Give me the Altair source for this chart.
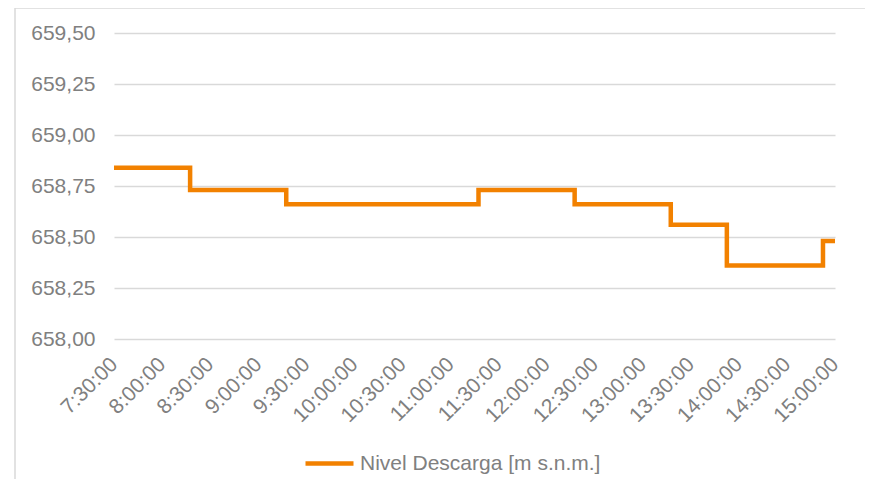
import altair as alt
import pandas as pd

# Step change times and levels
times = ["2024-01-01T07:30:00", "2024-01-01T08:17:30", "2024-01-01T09:17:30",
         "2024-01-01T11:17:30", "2024-01-01T12:17:30", "2024-01-01T13:17:30",
         "2024-01-01T13:52:30", "2024-01-01T14:52:30", "2024-01-01T15:00:00"]
levels = [658.84, 658.73, 658.66, 658.73, 658.66, 658.56, 658.36, 658.48, 658.48]
series_name = "Nivel Descarga [m s.n.m.]"

tick_times = [f"2024-01-01T{h}:{m}:00" for h, m in
              [(f"{7 + (i + 1) // 2:02d}", "30" if i % 2 == 0 else "00") for i in range(16)]]
y_ticks = [658.00, 658.25, 658.50, 658.75, 659.00, 659.25, 659.50]

df = pd.DataFrame({"t": times, "nivel": levels, "serie": [series_name] * len(times)})

FONT = "Liberation Sans"
GRAY = "#808080"
ORANGE = "#F28100"

line = alt.Chart(df).mark_line(interpolate="step-after", strokeWidth=4.5).encode(
    x=alt.X("t:T", title=None,
            scale=alt.Scale(domain=["2024-01-01T07:30:00", "2024-01-01T15:00:00"]),
            axis=alt.Axis(values=tick_times, format="%-H:%M:%S", labelAngle=-45,
                          labelAlign="right", labelBaseline="middle",
                          labelFontSize=21, labelColor=GRAY, labelFont=FONT,
                          ticks=False, domain=False, grid=False, labelPadding=22,
                          labelOverlap=False, labelFlush=False)),
    y=alt.Y("nivel:Q", title=None,
            scale=alt.Scale(domain=[658.0, 659.5], zero=False, nice=False),
            axis=alt.Axis(values=y_ticks,
                          labelExpr="replace(format(datum.value, '.2f'), '.', ',')",
                          labelFontSize=21, labelColor=GRAY, labelFont=FONT,
                          ticks=False, domain=False, gridColor="#D9D9D9",
                          gridWidth=1.3, labelPadding=19)),
    color=alt.Color("serie:N", scale=alt.Scale(range=[ORANGE]),
                    legend=alt.Legend(title=None, orient="none", legendX=189, legendY=404,
                                      symbolType="stroke", symbolSize=2304,
                                      symbolStrokeWidth=4.5, labelFontSize=21,
                                      labelColor=GRAY, labelFont=FONT, labelOffset=4,
                                      labelLimit=500)),
)

frame = alt.Chart(alt.Data(values=[{}])).mark_rect(
    fill=None, stroke="#D9D9D9", strokeWidth=1.5
).encode(x=alt.value(-99), x2=alt.value(900), y=alt.value(-25), y2=alt.value(500))

chart = alt.layer(frame, line).properties(
    width=721, height=306,
    background="white",
    autosize=alt.AutoSizeParams(type="none"),
    padding={"left": 106, "top": 25, "right": 30, "bottom": 140},
).configure_view(strokeWidth=0, stroke="transparent")

chart.save("out.html", embed_options={"renderer": "svg", "actions": False})
